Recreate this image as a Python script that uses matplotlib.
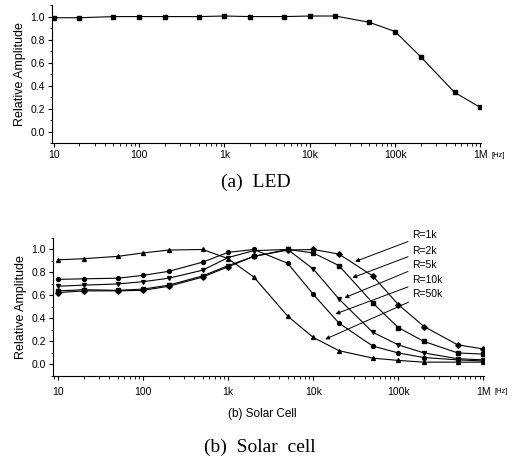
import matplotlib
matplotlib.use('Agg')
import matplotlib.pyplot as plt
from matplotlib.ticker import FixedLocator, MultipleLocator, LogLocator, NullFormatter

freq = [10, 20, 50, 100, 200, 500, 1e3, 2e3, 5e3, 1e4, 2e4, 5e4, 1e5, 2e5, 5e5, 1e6]
tick_pos = [10, 100, 1e3, 1e4, 1e5, 1e6]
tick_lab = ['10', '100', '1k', '10k', '100k', '1M']

led = [0.99, 0.99, 1.0, 1.0, 1.0, 1.0, 1.005, 1.0, 1.0, 1.005, 1.005,
       0.95, 0.87, 0.65, 0.34, 0.21]

r1k = [0.625, 0.64, 0.64, 0.645, 0.68, 0.76, 0.85, 0.94, 0.995, 1.0, 0.96,
       0.77, 0.52, 0.33, 0.17, 0.135]
r2k = [0.64, 0.65, 0.645, 0.655, 0.69, 0.77, 0.86, 0.94, 1.0, 0.97, 0.86,
       0.535, 0.32, 0.20, 0.10, 0.09]
r5k = [0.68, 0.69, 0.70, 0.72, 0.75, 0.82, 0.93, 0.99, 1.0, 0.83, 0.57,
       0.28, 0.17, 0.10, 0.05, 0.04]
r10k = [0.74, 0.745, 0.75, 0.775, 0.81, 0.89, 0.975, 1.0, 0.88, 0.61, 0.36,
        0.16, 0.10, 0.06, 0.04, 0.03]
r50k = [0.91, 0.92, 0.94, 0.97, 0.995, 1.0, 0.92, 0.76, 0.42, 0.235, 0.12,
        0.055, 0.035, 0.02, 0.02, 0.02]

labels = ['R=1k', 'R=2k', 'R=5k', 'R=10k', 'R=50k']
arrow_tip = [(31e3, 0.895), (28.8e3, 0.754), (23.2e3, 0.579), (18.2e3, 0.439), (13.8e3, 0.219)]
label_y = [1.123, 0.991, 0.868, 0.737, 0.614]

plt.rcParams['font.family'] = ['Liberation Sans', 'DejaVu Sans']

fig = plt.figure(figsize=(5.14, 4.63), dpi=100)
ax1 = fig.add_axes([0.101, 0.691, 0.835, 0.298])
ax2 = fig.add_axes([0.103, 0.188, 0.839, 0.298])


def style_axis(ax, xmin):
    ax.set_xscale('log')
    ax.set_xlim(xmin, 1.02e6)
    ax.set_ylim(-0.1, 1.1)
    ax.spines['top'].set_visible(False)
    ax.spines['right'].set_visible(False)
    ax.xaxis.set_major_locator(FixedLocator(tick_pos))
    ax.set_xticklabels(tick_lab)
    ax.xaxis.set_minor_locator(LogLocator(base=10, subs=range(2, 10)))
    ax.xaxis.set_minor_formatter(NullFormatter())
    ax.yaxis.set_minor_locator(MultipleLocator(0.1))
    ax.set_yticks([0.0, 0.2, 0.4, 0.6, 0.8, 1.0])
    ax.set_yticklabels(['0.0', '0.2', '0.4', '0.6', '0.8', '1.0'])
    ax.tick_params(which='major', length=3, width=0.8, labelsize=7.5, pad=2)
    ax.tick_params(which='minor', length=1.8, width=0.6)
    ax.set_ylabel('Relative Amplitude', fontsize=9, labelpad=3)


style_axis(ax1, 9.5)
ax1.plot(freq, led, color='black', lw=0.8, marker='s', ms=2.8)
ax1.text(1.025, -0.09, '[Hz]', transform=ax1.transAxes, fontsize=5.5, va='center')
fig.text(0.497, 1 - 182 / 463, '(a)  LED', family='Liberation Serif', fontsize=14,
         ha='center', va='center')

style_axis(ax2, 8.7)
ax2.tick_params(axis='x', which='major', pad=5)
mk = ['D', 's', 'v', 'o', '^']
for series, m in zip([r1k, r2k, r5k, r10k, r50k], mk):
    ax2.plot(freq, series, color='black', lw=0.8, marker=m, ms=2.8)
for lab, tip, ly in zip(labels, arrow_tip, label_y):
    ax2.annotate(lab, xy=tip, xytext=(145e3, ly), fontsize=7.5, va='center', ha='left',
                 annotation_clip=False,
                 arrowprops=dict(arrowstyle='-|>', color='black', lw=0.7,
                                 mutation_scale=6, shrinkA=1, shrinkB=0))
ax2.text(1.025, -0.115, '[Hz]', transform=ax2.transAxes, fontsize=5.5, va='center')
fig.text(0.51, 1 - 414 / 463, '(b) Solar Cell', fontsize=8.5, ha='center', va='center')
fig.text(0.506, 1 - 447 / 463, '(b)  Solar  cell', family='Liberation Serif', fontsize=14,
         ha='center', va='center')

fig.savefig('out.png', dpi=100)
